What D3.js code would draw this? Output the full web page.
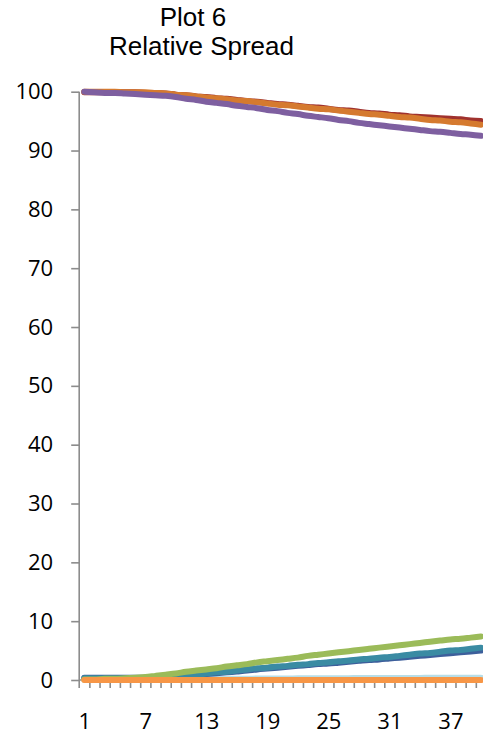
<!DOCTYPE html>
<html>
<head>
<meta charset="utf-8">
<script src="https://cdn.jsdelivr.net/npm/d3@7"></script>
<style>
  html, body { margin: 0; padding: 0; background: #fff; overflow: hidden; }
  svg { display: block; }
</style>
</head>
<body>
<svg id="chart" width="483" height="740"></svg>
<script>
// ---- data ----
const categories = d3.range(1, 41);
const xTickLabels = [1, 7, 13, 19, 25, 31, 37];
const yTickValues = [0, 10, 20, 30, 40, 50, 60, 70, 80, 90, 100];
const titleLines = ["Plot 6", "Relative Spread"];

const seriesLightCyan = [0.05,0.05,0.05,0.05,0.05,0.1,0.1,0.1,0.1,0.1,0.15,0.15,0.15,0.2,0.2,0.2,0.2,0.25,0.25,0.25,0.25,0.3,0.3,0.3,0.3,0.3,0.3,0.35,0.35,0.35,0.35,0.35,0.35,0.35,0.4,0.4,0.4,0.4,0.4,0.4];
const seriesDarkBlue = [0.4,0.4,0.4,0.4,0.4,0.4,0.4,0.45,0.5,0.6,0.7,0.85,1.0,1.15,1.3,1.45,1.6,1.8,1.95,2.1,2.25,2.4,2.55,2.7,2.8,2.95,3.1,3.25,3.4,3.5,3.65,3.8,3.95,4.1,4.25,4.4,4.55,4.7,4.85,5.0];
const seriesTeal = [0.3,0.3,0.3,0.3,0.3,0.3,0.3,0.4,0.5,0.6,0.8,0.9,1.1,1.3,1.4,1.6,1.8,2.0,2.1,2.3,2.4,2.6,2.7,2.9,3.0,3.2,3.3,3.5,3.6,3.8,3.9,4.1,4.3,4.5,4.6,4.8,5.0,5.1,5.3,5.5];
const seriesGreen = [0.1,0.1,0.2,0.2,0.3,0.4,0.5,0.7,0.9,1.1,1.4,1.6,1.8,2.0,2.3,2.5,2.7,3.0,3.2,3.4,3.6,3.8,4.1,4.3,4.5,4.7,4.9,5.1,5.3,5.5,5.7,5.9,6.1,6.3,6.5,6.7,6.9,7.0,7.2,7.4];
const seriesDarkRed = [99.9,99.9,99.9,99.9,99.9,99.9,99.8,99.8,99.7,99.5,99.4,99.2,99.1,98.9,98.8,98.6,98.4,98.3,98.1,97.9,97.8,97.6,97.4,97.3,97.1,96.9,96.8,96.6,96.4,96.3,96.1,96.0,95.8,95.7,95.6,95.5,95.4,95.3,95.1,95.0];
const seriesDarkOrange = [100,100,100,100,99.9,99.9,99.9,99.8,99.7,99.5,99.4,99.2,99.0,98.9,98.7,98.5,98.4,98.2,98.0,97.8,97.7,97.5,97.3,97.1,97.0,96.8,96.6,96.4,96.2,96.1,95.9,95.7,95.6,95.4,95.2,95.1,94.9,94.8,94.6,94.4];
const seriesPurple = [100,99.9,99.8,99.8,99.7,99.6,99.5,99.4,99.3,99.1,98.8,98.6,98.3,98.1,97.9,97.6,97.4,97.2,96.9,96.7,96.4,96.2,95.9,95.7,95.5,95.2,95.0,94.7,94.5,94.3,94.1,93.9,93.7,93.5,93.3,93.2,93.0,92.8,92.7,92.5];
const seriesOrange = [0,0,0,0,0,0,0,0,0,0,0,0,0,0,0,0,0,0,0,0,0,0,0,0,0,0,0,0,0,0,0,0,0,0,0,0,0,0,0,0];

const seriesList = [
  { name: "light cyan", values: seriesLightCyan, color: "#b7dee8" },
  { name: "dark blue", values: seriesDarkBlue, color: "#3d5f9b" },
  { name: "teal", values: seriesTeal, color: "#3a8ba3" },
  { name: "green", values: seriesGreen, color: "#9bbb59" },
  { name: "dark red", values: seriesDarkRed, color: "#a0322e" },
  { name: "dark orange", values: seriesDarkOrange, color: "#d57a2f" },
  { name: "purple", values: seriesPurple, color: "#7e5fa0" },
  { name: "orange", values: seriesOrange, color: "#f79646" }
];

// ---- layout ----
const svg = d3.select("#chart");
const x0 = 79.2, step = 10.17;
const x = d3.scaleLinear().domain([0.5, 40.5]).range([x0, x0 + 40 * step]);
const y = d3.scaleLinear().domain([0, 100]).range([680, 91.7]);
const axisColor = "#8c8c8c";
const labelFont = "'Open Sans', 'Noto Sans', sans-serif";

// title
svg.append("text").attr("x", 193).attr("y", 26).attr("text-anchor", "middle")
  .attr("font-family", "'Liberation Sans', Arial, sans-serif").attr("font-size", 26).attr("fill", "#000")
  .text(titleLines[0]);
svg.append("text").attr("x", 201.5).attr("y", 55).attr("text-anchor", "middle")
  .attr("font-family", "'Liberation Sans', Arial, sans-serif").attr("font-size", 26).attr("fill", "#000")
  .text(titleLines[1]);

// y axis
const yAxis = svg.append("g").attr("transform", `translate(${x0},0)`)
  .call(d3.axisLeft(y).tickValues(yTickValues).tickSize(8).tickPadding(18).tickFormat(d3.format("d")));
yAxis.select(".domain").remove();
yAxis.selectAll(".tick line").attr("stroke", axisColor).attr("stroke-width", 1.6);
yAxis.selectAll(".tick text").attr("font-family", labelFont).attr("font-size", 22).attr("fill", "#000");
svg.append("line").attr("x1", x0).attr("x2", x0).attr("y1", y(100)).attr("y2", y(0) + 8)
  .attr("stroke", axisColor).attr("stroke-width", 1.6);

// x axis line + minor ticks at category boundaries
svg.append("line").attr("x1", x0).attr("x2", x(40.5)).attr("y1", y(0)).attr("y2", y(0))
  .attr("stroke", axisColor).attr("stroke-width", 1.6);
const boundaries = categories.map(c => c + 0.5);
const xTicks = svg.append("g").attr("transform", `translate(0,${y(0)})`)
  .call(d3.axisBottom(x).tickValues(boundaries).tickSize(8).tickFormat(""));
xTicks.select(".domain").remove();
xTicks.selectAll(".tick line").attr("stroke", axisColor).attr("stroke-width", 1.6);

// x labels
const xLabels = svg.append("g").attr("transform", `translate(0,${y(0)})`)
  .call(d3.axisBottom(x).tickValues(xTickLabels).tickSize(0).tickPadding(33).tickFormat(d3.format("d")));
xLabels.select(".domain").remove();
xLabels.selectAll(".tick text").attr("font-family", labelFont).attr("font-size", 22).attr("fill", "#000");

// lines
const line = d3.line().x((d, i) => x(categories[i])).y(d => y(d)).curve(d3.curveMonotoneX);
svg.append("g").selectAll("path").data(seriesList).join("path")
  .attr("d", d => line(d.values))
  .attr("fill", "none")
  .attr("stroke", d => d.color)
  .attr("stroke-width", 6)
  .attr("stroke-linecap", "round")
  .attr("stroke-linejoin", "round");
</script>
</body>
</html>
